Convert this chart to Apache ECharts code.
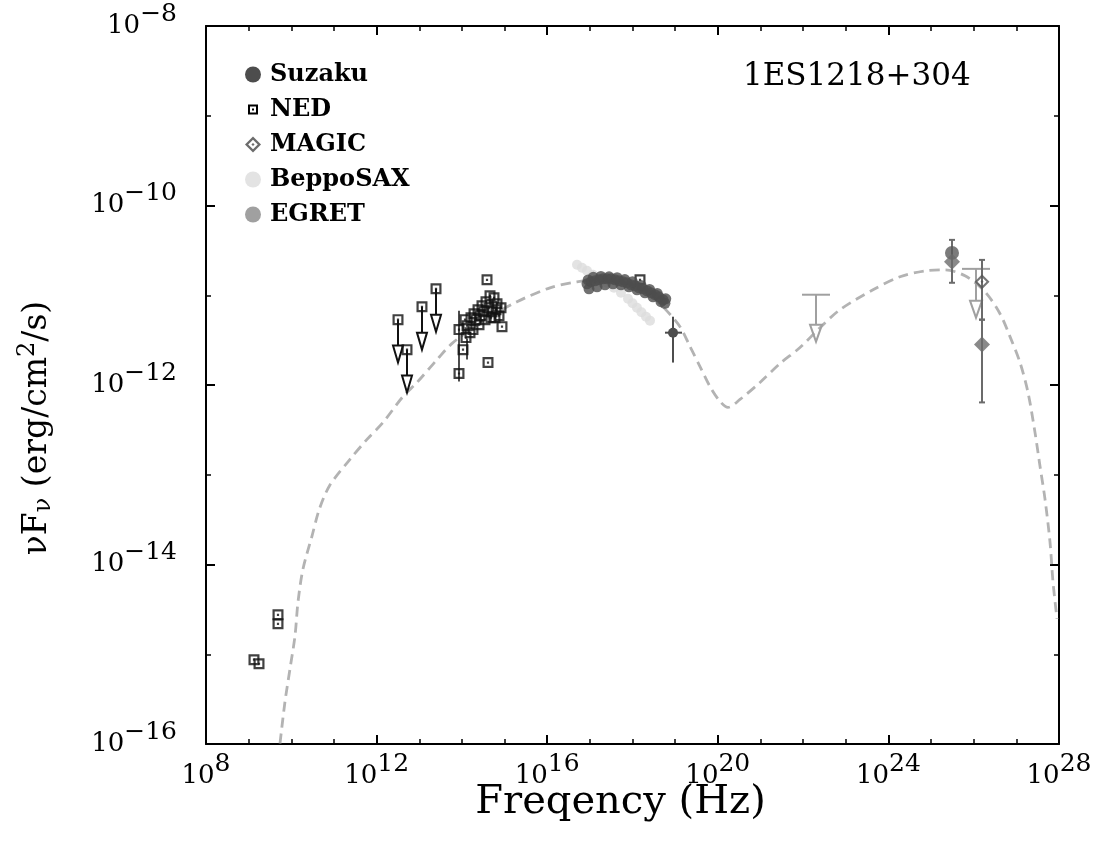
<!DOCTYPE html>
<html>
<head>
<meta charset="utf-8">
<script src="https://cdn.jsdelivr.net/npm/echarts@6/dist/echarts.min.js"></script>
<style>html,body{margin:0;padding:0;background:#fff;}#c{width:1097px;height:843px;}</style>
</head>
<body>
<div id="c"></div>
<script>
// All values are log10(frequency / Hz) and log10(nuF_nu / erg cm^-2 s^-1)
const xTicks = [8, 12, 16, 20, 24, 28];
const yTicks = [-16, -14, -12, -10, -8];

const suzakuPoints = [
  [16.933,-10.872],[17.027,-10.850],[17.121,-10.839],[17.215,-10.828],[17.308,-10.817],
  [17.402,-10.817],[17.496,-10.817],[17.590,-10.828],[17.684,-10.839],[17.777,-10.850],
  [17.871,-10.861],[17.965,-10.883],[18.059,-10.894],[18.153,-10.917],[18.246,-10.928],
  [18.340,-10.950],[18.434,-10.972],[18.528,-10.994],[18.622,-11.017],[18.715,-11.050],
  [16.980,-10.928],[17.168,-10.906],[17.355,-10.883],[17.543,-10.872],[17.730,-10.883],
  [17.918,-10.906],[18.106,-10.939],[18.293,-10.972],[18.481,-11.017],[18.668,-11.072],
  [16.960,-10.830],[17.080,-10.800],[17.260,-10.790],[17.450,-10.795],[17.640,-10.805],
  [17.820,-10.825],[18.000,-10.850],[18.200,-10.890],[18.400,-10.935],[18.580,-10.980],
  [18.780,-11.040],[18.760,-11.090]
];
// Suzaku HXD point: [logNu, logFlux, xLow, xHigh, yLow, yHigh]
const suzakuHxd = [[18.950,-11.417,18.762,19.161,-11.750,-11.239]];

const beppoPoints = [
  [16.699,-10.661],[16.816,-10.694],[16.933,-10.728],[17.074,-10.772],[17.238,-10.817],
  [17.402,-10.861],[17.566,-10.917],[17.730,-10.972],[17.895,-11.039],[18.000,-11.089],
  [18.105,-11.139],[18.210,-11.189],[18.317,-11.239],[18.410,-11.283]
];

const nedPoints = [
  [9.125,-15.061],[9.243,-15.106],[9.688,-14.561],[9.688,-14.661],
  [12.502,-11.272],[12.713,-11.606],[13.064,-11.128],[13.393,-10.928],
  [13.932,-11.383],[13.932,-11.872],[14.026,-11.606],[14.096,-11.472],[14.120,-11.339],
  [14.073,-11.272],[14.190,-11.417],[14.213,-11.250],[14.260,-11.383],[14.284,-11.206],
  [14.331,-11.272],[14.378,-11.161],[14.401,-11.328],[14.424,-11.228],[14.471,-11.117],
  [14.518,-11.183],[14.542,-11.272],[14.565,-11.072],[14.589,-10.828],[14.612,-11.750],
  [14.635,-11.139],[14.659,-11.006],[14.682,-11.250],[14.706,-11.183],[14.753,-11.028],
  [14.776,-11.250],[14.800,-11.161],[14.823,-11.094],[14.870,-11.228],[14.917,-11.139],
  [14.940,-11.350],
  [18.176,-10.828]
];
// [logNu, low, high]
const nedErrors = [[13.932,-11.961,-11.172],[14.120,-11.717,-11.483]];
// upper limits: [logNu, logFlux(top), arrow tip]
const nedUpperLimits = [
  [12.502,-11.272,-11.750],[12.713,-11.606,-12.083],
  [13.064,-11.128,-11.606],[13.393,-10.928,-11.406]
];

const magicOpen = [[26.195,-10.850]];
const magicFilled = [[25.491,-10.628],[26.195,-11.550]];
const magicCircle = [[25.491,-10.528]];
const magicErrors = [[25.491,-10.861,-10.383],[26.195,-11.272,-10.606],[26.195,-12.194,-11.272]];

const egretUpperLimits = [[22.303,-10.994,-11.517],[26.054,-10.706,-11.250]];

const modelCurve = [
  [9.735,-15.994],[9.852,-15.528],[9.970,-15.161],[10.087,-14.794],[10.157,-14.417],
  [10.274,-14.050],[10.485,-13.683],[10.660,-13.380],[10.900,-13.120],[11.376,-12.828],
  [11.775,-12.606],[12.150,-12.417],[12.619,-12.128],[12.947,-11.972],[13.416,-11.717],
  [13.791,-11.528],[14.542,-11.272],[15.292,-11.072],[16.066,-10.917],[16.699,-10.850],
  [17.355,-10.828],[17.941,-10.872],[18.363,-10.972],[18.715,-11.128],[19.114,-11.350],
  [19.348,-11.572],[19.583,-11.794],[19.817,-12.017],[20.052,-12.183],[20.239,-12.250],
  [20.520,-12.161],[20.989,-11.972],[21.458,-11.761],[21.927,-11.583],[22.396,-11.361],
  [22.865,-11.161],[23.639,-10.939],[24.272,-10.794],[24.858,-10.728],[25.327,-10.717],
  [25.796,-10.783],[26.265,-10.961],[26.617,-11.206],[26.851,-11.461],[27.086,-11.750],
  [27.273,-12.083],[27.437,-12.528],[27.555,-12.906],[27.672,-13.272],[27.789,-13.750],
  [27.859,-14.194],[27.953,-14.606]
];

const FONT = 'DejaVu Serif';
const C_SUZAKU = '#4d4d4d', C_BEPPO = '#dcdcdc', C_EGRET = '#a0a0a0', C_MAGIC = '#6b6b6b', C_MODEL = '#b3b3b3';
const NED_SYMBOL = 'path://M0,0H10V10H0Z M2,2V8H8V2Z M4,4H6V6H4Z';
const NED_ICON = 'path://M-3,-3 M13,13 M0,0H10V10H0Z M2,2V8H8V2Z M4,4H6V6H4Z';
const MAGIC_SYMBOL = 'path://M5,0L10,5L5,10L0,5Z M5,2L2,5L5,8L8,5Z M5,4L6,5L5,6L4,5Z';
const MAGIC_ICON = 'path://M5,0L10,5L5,10L0,5Z M5,2L2,5L5,8L8,5Z M5,4L6,5L5,6L4,5Z';

const rich = {
  b: {fontFamily: FONT, fontSize: 26, color: '#000'},
  s: {fontFamily: FONT, fontSize: 25, color: '#000', padding: [0, 0, 24, 0]}
};

function axisBase(extra) {
  return Object.assign({
    type: 'value',
    axisLine: {show: true, onZero: false, lineStyle: {color: '#000', width: 2}},
    axisTick: {show: true, inside: true, length: 9, lineStyle: {color: '#000', width: 2}},
    minorTick: {show: true, length: 5, lineStyle: {color: '#000', width: 1.5}},
    splitLine: {show: false}
  }, extra);
}

function errorBarRender(color, width, cap) {
  return function (params, api) {
    const x = api.value(0), lo = api.value(1), hi = api.value(2);
    const a = api.coord([x, lo]), b = api.coord([x, hi]);
    const st = {stroke: color, lineWidth: width};
    const ch = [{type: 'line', shape: {x1: a[0], y1: a[1], x2: b[0], y2: b[1]}, style: st}];
    if (cap > 0) {
      ch.push({type: 'line', shape: {x1: a[0] - cap, y1: a[1], x2: a[0] + cap, y2: a[1]}, style: st});
      ch.push({type: 'line', shape: {x1: b[0] - cap, y1: b[1], x2: b[0] + cap, y2: b[1]}, style: st});
    }
    return {type: 'group', children: ch};
  };
}

function upperLimitRender(color, width, bar, triW, triH) {
  return function (params, api) {
    const x = api.value(0), top = api.value(1), tip = api.value(2);
    const a = api.coord([x, top]), b = api.coord([x, tip]);
    const st = {stroke: color, lineWidth: width, fill: null};
    const ch = [
      {type: 'line', shape: {x1: a[0], y1: a[1], x2: b[0], y2: b[1] - triH}, style: st},
      {type: 'polygon', shape: {points: [[b[0] - triW / 2, b[1] - triH], [b[0] + triW / 2, b[1] - triH], [b[0], b[1]]]}, style: st}
    ];
    if (bar > 0) ch.push({type: 'line', shape: {x1: a[0] - bar, y1: a[1], x2: a[0] + bar, y2: a[1]}, style: st});
    return {type: 'group', children: ch};
  };
}

const chart = echarts.init(document.getElementById('c'));
chart.setOption({
  animation: false,
  backgroundColor: '#fff',
  title: {
    text: '1ES1218+304', left: 738, top: 56,
    textStyle: {fontFamily: FONT, fontSize: 31, fontWeight: 'normal', color: '#000'}
  },
  legend: {
    orient: 'vertical', left: 240, top: 57, itemWidth: 16, itemHeight: 16, itemGap: 10,
    selectedMode: false,
    textStyle: {fontFamily: FONT, fontWeight: 'bold', fontSize: 24, color: '#000', lineHeight: 25, padding: [0, 0, 0, 4]},
    data: [
      {name: 'Suzaku', icon: 'circle', itemStyle: {color: C_SUZAKU}},
      {name: 'NED', icon: NED_ICON, itemStyle: {color: '#000'}},
      {name: 'MAGIC', icon: MAGIC_ICON, itemStyle: {color: C_MAGIC}},
      {name: 'BeppoSAX', icon: 'circle', itemStyle: {color: C_BEPPO}},
      {name: 'EGRET', icon: 'circle', itemStyle: {color: C_EGRET}}
    ]
  },
  grid: {left: 206, right: 38, top: 26, bottom: 99, containLabel: false},
  xAxis: [
    axisBase({
      min: 8, max: 28, interval: 4, position: 'bottom',
      minorTick: {show: true, splitNumber: 4, length: 5, lineStyle: {color: '#000', width: 1.5}},
      axisLabel: {margin: 8, formatter: v => '{b|10}{s|' + v + '}', rich: rich},
      name: 'Freqency (Hz)', nameLocation: 'middle', nameGap: 39, nameMoveOverlap: false,
      nameTextStyle: {fontFamily: FONT, fontSize: 40, color: '#000', padding: [0, 24, 0, 0]}
    }),
    axisBase({
      min: 8, max: 28, interval: 4, position: 'top',
      minorTick: {show: true, splitNumber: 4, length: 5, lineStyle: {color: '#000', width: 1.5}},
      axisLabel: {show: false}
    })
  ],
  yAxis: [
    axisBase({
      min: -16, max: -8, interval: 2, position: 'left',
      minorTick: {show: true, splitNumber: 2, length: 5, lineStyle: {color: '#000', width: 1.5}},
      axisLabel: {margin: 29, formatter: v => '{b|10}{s|\u2212' + Math.abs(v) + '}', rich: rich},
      name: '{a|\u03bdF}{u|\u03bd}{a| (erg/cm}{p|2}{a|/s)}', nameLocation: 'middle', nameGap: 148, nameRotate: 90,
      nameMoveOverlap: false,
      nameTextStyle: {
        fontFamily: FONT, fontSize: 33, color: '#000', padding: [0, 86, 0, 0],
        rich: {
          a: {fontFamily: FONT, fontSize: 33, color: '#000'},
          u: {fontFamily: FONT, fontSize: 24, color: '#000', padding: [14, 0, 0, 0]},
          p: {fontFamily: FONT, fontSize: 24, color: '#000', padding: [0, 0, 18, 0]}
        }
      }
    }),
    axisBase({
      min: -16, max: -8, interval: 2, position: 'right',
      minorTick: {show: true, splitNumber: 2, length: 5, lineStyle: {color: '#000', width: 1.5}},
      axisLabel: {show: false}
    })
  ],
  series: [
    {name: 'BeppoSAX', type: 'scatter', data: beppoPoints, symbol: 'circle', symbolSize: 10,
     itemStyle: {color: C_BEPPO}, z: 1, silent: true},
    {name: 'model', type: 'line', data: modelCurve, smooth: 0.3, symbol: 'none', z: 2, silent: true,
     lineStyle: {color: C_MODEL, width: 2.8, type: [10, 6]}},
    {name: 'NED', type: 'custom', data: nedErrors, renderItem: errorBarRender('#111', 1.5, 0), z: 3, silent: true},
    {name: 'NED', type: 'custom', data: nedUpperLimits, renderItem: upperLimitRender('#111', 2, 0, 10, 17), z: 3, silent: true},
    {name: 'NED', type: 'scatter', data: nedPoints, symbol: NED_SYMBOL, symbolSize: 11,
     itemStyle: {color: '#111'}, z: 4, silent: true},
    {name: 'EGRET', type: 'custom', data: egretUpperLimits, renderItem: upperLimitRender(C_EGRET, 2, 14, 12, 17), z: 3, silent: true},
    {name: 'MAGIC', type: 'custom', data: magicErrors, renderItem: errorBarRender(C_MAGIC, 2, 3), z: 3, silent: true},
    {name: 'MAGIC', type: 'scatter', data: magicCircle, symbol: 'circle', symbolSize: 14, itemStyle: {color: '#5a5a5a'}, z: 4, silent: true},
    {name: 'MAGIC', type: 'scatter', data: magicFilled, symbol: 'diamond', symbolSize: 16, itemStyle: {color: C_MAGIC}, z: 4, silent: true},
    {name: 'MAGIC', type: 'scatter', data: magicOpen, symbol: MAGIC_SYMBOL, symbolSize: 15, itemStyle: {color: '#555'}, z: 5, silent: true},
    {name: 'Suzaku', type: 'custom', data: suzakuHxd, z: 4, silent: true,
     renderItem: function (params, api) {
       const x = api.value(0), y = api.value(1);
       const p = api.coord([x, y]);
       const l = api.coord([api.value(2), y]), r = api.coord([api.value(3), y]);
       const lo = api.coord([x, api.value(4)]), hi = api.coord([x, api.value(5)]);
       const st = {stroke: C_SUZAKU, lineWidth: 2};
       return {type: 'group', children: [
         {type: 'line', shape: {x1: l[0], y1: l[1], x2: r[0], y2: r[1]}, style: st},
         {type: 'line', shape: {x1: lo[0], y1: lo[1], x2: hi[0], y2: hi[1]}, style: st},
         {type: 'circle', shape: {cx: p[0], cy: p[1], r: 5}, style: {fill: C_SUZAKU}}
       ]};
     }},
    {name: 'Suzaku', type: 'scatter', data: suzakuPoints, symbol: 'circle', symbolSize: 11,
     itemStyle: {color: C_SUZAKU}, z: 5, silent: true}
  ]
});
</script>
</body>
</html>
